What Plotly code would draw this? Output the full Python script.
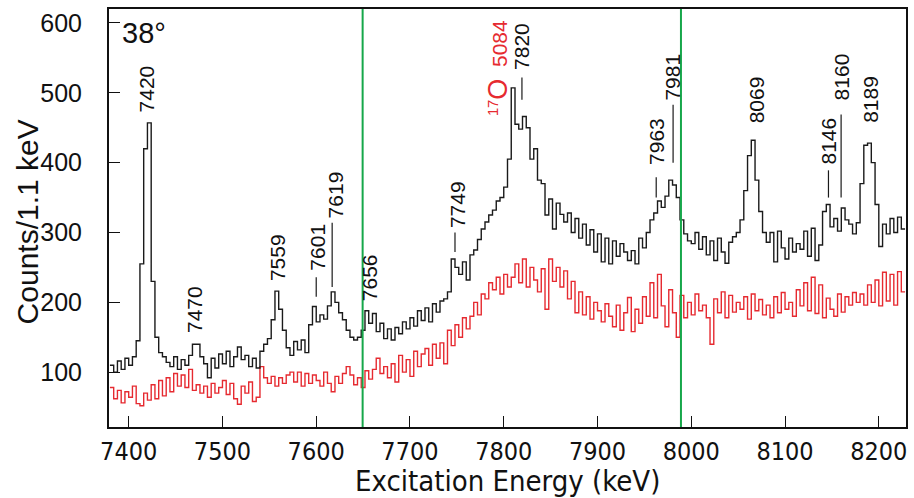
import numpy as np
import plotly.graph_objects as go

# ---- data -------------------------------------------------------------
bin_start = 7380   # keV, left edge of first bin
bin_width = 4      # keV

black_counts = [
    # 7380-7476
    110, 100, 116, 104, 120, 110, 122, 145, 255, 420, 457, 230, 150, 128, 122, 114, 108, 122, 104, 118, 110, 124, 140, 140, 122,
    # 7480-7576
    112, 92, 120, 106, 126, 112, 130, 108, 122, 136, 118, 124, 108, 120, 106, 130, 140, 148, 175, 216, 190, 160, 135, 124, 144,
    # 7580-7676
    132, 146, 128, 168, 194, 172, 182, 176, 195, 215, 200, 185, 175, 160, 150, 146, 150, 160, 188, 170, 184, 158, 170, 148, 162,
    # 7680-7776
    146, 164, 155, 172, 162, 178, 166, 188, 174, 192, 172, 198, 186, 202, 205, 215, 262, 250, 240, 258, 232, 268, 275, 290, 305,
    # 7780-7876
    315, 325, 332, 345, 350, 365, 405, 507, 455, 448, 466, 450, 405, 420, 375, 370, 325, 348, 305, 342, 326, 315, 328, 300, 320,
    # 7880-7976
    292, 312, 282, 304, 272, 298, 258, 292, 255, 288, 266, 284, 272, 260, 274, 255, 292, 278, 300, 318, 328, 345, 336, 352, 375,
    # 7980-8076
    368, 350, 318, 298, 288, 284, 300, 276, 294, 268, 288, 260, 292, 272, 256, 286, 294, 300, 318, 360, 410, 432, 375, 330, 300,
    # 8080-8176
    286, 300, 258, 302, 278, 262, 292, 272, 284, 276, 302, 266, 306, 260, 282, 330, 340, 308, 320, 302, 335, 318, 312, 298, 314,
    # 8180-8224
    370, 425, 428, 400, 340, 280, 312, 298, 320, 300, 322, 305,
]

red_counts = [
    # 7380-7476
    78, 62, 74, 56, 72, 64, 80, 55, 52, 70, 60, 82, 62, 88, 66, 92, 72, 98, 80, 96, 78, 104, 74, 82, 70,
    # 7480-7576
    80, 64, 84, 70, 78, 88, 68, 84, 62, 54, 80, 70, 86, 58, 64, 108, 92, 84, 94, 80, 92, 84, 96, 100, 86,
    # 7580-7676
    100, 80, 98, 84, 96, 88, 80, 100, 84, 72, 94, 84, 98, 108, 96, 82, 92, 78, 102, 90, 104, 120, 98, 108, 92,
    # 7680-7776
    112, 86, 124, 100, 118, 94, 130, 108, 126, 134, 110, 140, 120, 142, 112, 160, 138, 168, 150, 178, 162, 180, 200, 182, 212,
    # 7780-7876
    205, 228, 218, 236, 212, 240, 222, 236, 255, 228, 262, 222, 250, 232, 215, 248, 190, 262, 230, 250, 222, 245, 205, 230, 185,
    # 7880-7976
    215, 182, 208, 176, 200, 188, 172, 198, 180, 165, 196, 160, 185, 207, 158, 190, 170, 208, 180, 228, 178, 240, 195, 165, 218,
    # 7980-8076
    185, 150, 210, 178, 200, 182, 212, 188, 196, 178, 140, 205, 185, 215, 178, 210, 186, 200, 190, 208, 176, 212, 188, 204, 182,
    # 8080-8176
    196, 178, 208, 185, 214, 190, 200, 180, 218, 195, 228, 188, 236, 184, 225, 178, 206, 190, 180, 212, 186, 208, 196, 214, 200,
    # 8180-8224
    212, 196, 225, 200, 232, 195, 243, 202, 240, 196, 244, 215,
]

green_lines = [7649.5, 7989]

x_ticks = [7400, 7500, 7600, 7700, 7800, 7900, 8000, 8100, 8200]
y_ticks = [100, 200, 300, 400, 500, 600]

# state labels: text, energy (x), bottom of text (y)
peak_labels = ["7420", "7470", "7559", "7601", "7619", "7656", "7749", "7820",
               "7963", "7981", "8069", "8146", "8160", "8189"]
label_x = [7419, 7470, 7558, 7601, 7620, 7657, 7750, 7819, 7963, 7980, 8070, 8146, 8160, 8191]
label_y = [469, 153, 228, 242, 318, 199, 304, 530, 394, 486, 454, 394, 486, 454]

# short marker lines below some labels: x, y0, y1
marker_x = [7600, 7617, 7748, 7819.4, 7962.6, 7980.6, 8146.3, 8159.8]
marker_y0 = [208, 222, 272, 490, 350, 400, 350, 350]
marker_y1 = [236, 314, 300, 522, 379, 483, 389, 469]

# ---- figure -----------------------------------------------------------
def step_xy(counts):
    n = len(counts)
    edges = bin_start + bin_width * np.arange(n + 1)
    ys = list(counts) + [counts[-1]]
    return edges, ys

fig = go.Figure()

bx, by = step_xy(black_counts)
rx, ry = step_xy(red_counts)

fig.add_trace(go.Scatter(x=rx, y=ry, mode="lines", line=dict(shape="hv", color="#e62a30", width=1.4),
                         showlegend=False, hoverinfo="skip"))
fig.add_trace(go.Scatter(x=bx, y=by, mode="lines", line=dict(shape="hv", color="#1a1a1a", width=1.4),
                         showlegend=False, hoverinfo="skip"))

for gx in green_lines:
    fig.add_shape(type="line", x0=gx, x1=gx, y0=0, y1=1, xref="x", yref="paper",
                  line=dict(color="#16a74a", width=2))

for mx, y0, y1 in zip(marker_x, marker_y0, marker_y1):
    fig.add_shape(type="line", x0=mx, x1=mx, y0=y0, y1=y1, xref="x", yref="y",
                  line=dict(color="#1a1a1a", width=1.2))

font_main = "Liberation Sans, Arial, Helvetica, sans-serif"
font_narrow = "Liberation Sans Narrow, DejaVu Sans Condensed, Arial Narrow, Liberation Sans, sans-serif"

for t, lx, ly in zip(peak_labels, label_x, label_y):
    fig.add_annotation(x=lx, y=ly, xref="x", yref="y", text=t, textangle=-90, showarrow=False,
                       xanchor="center", yanchor="bottom", font=dict(family=font_main, size=21, color="#111"))

fig.add_annotation(x=7794, y=464, xref="x", yref="y",
                   text="<sup>17</sup><span style='font-size:27px'>O</span>  5084",
                   textangle=-90, showarrow=False, xanchor="center", yanchor="bottom",
                   font=dict(family=font_main, size=21, color="#e62a30"))

fig.add_annotation(x=0.014, y=0.985, xref="paper", yref="paper", text="38°", showarrow=False,
                   xanchor="left", yanchor="top", font=dict(family=font_main, size=29, color="#111"))

# y-axis title
fig.add_annotation(x=-0.1026, y=0.49, xref="paper", yref="paper", text="Counts/1.1 keV",
                   textangle=-90, showarrow=False, xanchor="center", yanchor="middle",
                   font=dict(family=font_main, size=30, color="#111"))

# x-axis title
fig.add_annotation(x=0.5, y=0, xref="paper", yref="paper", yshift=-36, text="Excitation Energy (keV)",
                   showarrow=False, xanchor="center", yanchor="top", borderpad=0,
                   font=dict(family=font_narrow, size=29, color="#111"))

fig.update_xaxes(range=[7379, 8229], tickvals=x_ticks, ticks="inside", ticklen=11, tickwidth=1.3,
                 tickcolor="#111", showline=True, linecolor="#111", linewidth=2, mirror=True,
                 showgrid=False, zeroline=False, ticklabelstandoff=1,
                 tickfont=dict(family=font_narrow, size=25, color="#111"))
fig.update_yaxes(range=[21.5, 620], tickvals=y_ticks, ticks="inside", ticklen=11, tickwidth=1.3,
                 tickcolor="#111", showline=True, linecolor="#111", linewidth=2, mirror=True,
                 showgrid=False, zeroline=False, ticklabelstandoff=20,
                 tickfont=dict(family=font_main, size=25, color="#111"))

fig.update_layout(width=914, height=498, margin=dict(l=109, r=6, t=9, b=71),
                  paper_bgcolor="white", plot_bgcolor="white")

fig.write_html("out.html")
